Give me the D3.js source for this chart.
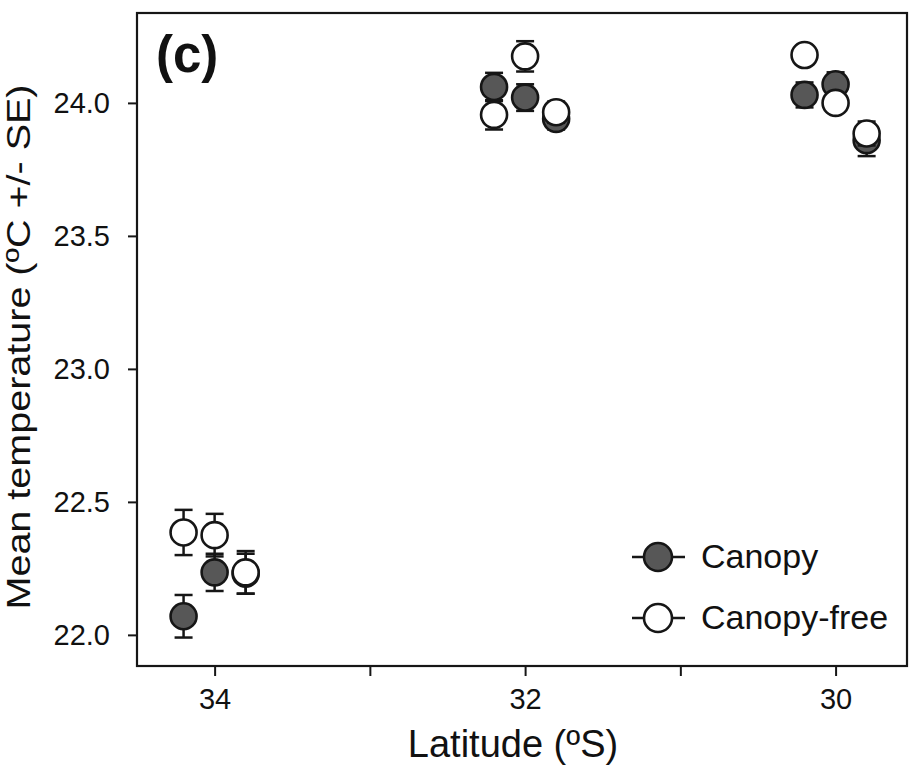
<!DOCTYPE html>
<html>
<head>
<meta charset="utf-8">
<script src="https://cdn.jsdelivr.net/npm/d3@7"></script>
<style>
  html, body { margin: 0; padding: 0; background: #fff; }
  svg { display: block; font-family: "Liberation Sans", Arial, sans-serif; }
</style>
</head>
<body>
<svg id="chart" width="913" height="772"></svg>
<script>
// Sampling sites (latitude, ºS)
const latitudes = [34.2, 34.0, 33.8, 32.2, 32.0, 31.8, 30.2, 30.0, 29.8];

// Mean temperature (ºC) and standard error per site
const canopyMean = [22.07, 22.235, 22.23, 24.06, 24.02, 23.94, 24.03, 24.07, 23.86];
const canopySE   = [0.08, 0.07, 0.075, 0.053, 0.05, 0.04, 0.047, 0.045, 0.06];
const freeMean   = [22.385, 22.375, 22.235, 23.955, 24.175, 23.965, 24.18, 24.0, 23.885];
const freeSE     = [0.085, 0.08, 0.08, 0.055, 0.057, 0.04, 0.035, 0.035, 0.045];

// Axis ticks
const xTicks = [34, 33, 32, 31, 30];
const xTickLabels = ["34", "", "32", "", "30"];
const yTicks = [22.0, 22.5, 23.0, 23.5, 24.0];

const seriesNames = ["Canopy", "Canopy-free"];
const seriesFill = ["#575757", "#ffffff"];

const svg = d3.select("#chart");
const plot = { left: 137, top: 13, right: 907, bottom: 666 };

const x = d3.scaleLinear().domain([34.5, 29.54]).range([plot.left, plot.right]);
const y = d3.scaleLinear().domain([21.883, 24.338]).range([plot.bottom, plot.top]);

const ink = "#161616";

// Axes
const xAxis = d3.axisBottom(x).tickValues(xTicks)
  .tickFormat((d, i) => xTickLabels[i]).tickSize(10).tickPadding(12);
const gx = svg.append("g").attr("transform", `translate(0,${plot.bottom})`).call(xAxis);
gx.select(".domain").remove();
gx.selectAll(".tick line").attr("stroke", ink).attr("stroke-width", 2);
gx.selectAll(".tick text").attr("font-size", 29).attr("fill", "#111")
  .attr("font-family", "Liberation Sans, Arial, sans-serif");

const yAxis = d3.axisLeft(y).tickValues(yTicks).tickFormat(d3.format(".1f"))
  .tickSize(9).tickPadding(18);
const gy = svg.append("g").attr("transform", `translate(${plot.left},0)`).call(yAxis);
gy.select(".domain").remove();
gy.selectAll(".tick line").attr("stroke", ink).attr("stroke-width", 2);
gy.selectAll(".tick text").attr("font-size", 29).attr("fill", "#111")
  .attr("font-family", "Liberation Sans, Arial, sans-serif");

// Plot frame
svg.append("rect")
  .attr("x", plot.left).attr("y", plot.top)
  .attr("width", plot.right - plot.left).attr("height", plot.bottom - plot.top)
  .attr("fill", "none").attr("stroke", ink).attr("stroke-width", 2.2);

// Axis titles
svg.append("text")
  .attr("x", 513).attr("y", 757)
  .attr("text-anchor", "middle").attr("font-size", 38).attr("fill", "#111")
  .text("Latitude (ºS)");

svg.append("text")
  .attr("transform", "translate(30,347) rotate(-90)")
  .attr("text-anchor", "middle").attr("font-size", 34).attr("fill", "#111")
  .attr("textLength", 525).attr("lengthAdjust", "spacingAndGlyphs")
  .text("Mean temperature (ºC +/- SE)");

// Panel label
svg.append("text")
  .attr("x", 156).attr("y", 72)
  .attr("font-size", 51).attr("font-weight", "bold").attr("fill", "#111")
  .text("(c)");

// Series: error bars then points; canopy-free drawn on top
const series = [
  { mean: canopyMean, se: canopySE, fill: seriesFill[0] },
  { mean: freeMean, se: freeSE, fill: seriesFill[1] }
];
const capHalf = 9;
const radius = 13;

series.forEach(s => {
  const data = latitudes.map((lat, i) => ({ lat, m: s.mean[i], se: s.se[i] }));
  const g = svg.append("g");
  const eb = g.selectAll(".eb").data(data).enter().append("g")
    .attr("stroke", ink).attr("stroke-width", 2.5);
  eb.append("line")
    .attr("x1", d => x(d.lat)).attr("x2", d => x(d.lat))
    .attr("y1", d => y(d.m - d.se)).attr("y2", d => y(d.m + d.se));
  eb.append("line")
    .attr("x1", d => x(d.lat) - capHalf).attr("x2", d => x(d.lat) + capHalf)
    .attr("y1", d => y(d.m + d.se)).attr("y2", d => y(d.m + d.se));
  eb.append("line")
    .attr("x1", d => x(d.lat) - capHalf).attr("x2", d => x(d.lat) + capHalf)
    .attr("y1", d => y(d.m - d.se)).attr("y2", d => y(d.m - d.se));
  g.selectAll("circle").data(data).enter().append("circle")
    .attr("cx", d => x(d.lat)).attr("cy", d => y(d.m)).attr("r", radius)
    .attr("fill", s.fill).attr("stroke", ink).attr("stroke-width", 2.6);
});

// Legend
const legend = svg.append("g");
const legendY = [557, 618];
seriesNames.forEach((name, i) => {
  const row = legend.append("g").attr("transform", `translate(0,${legendY[i]})`);
  row.append("line").attr("x1", 632).attr("x2", 685).attr("y1", 0).attr("y2", 0)
    .attr("stroke", ink).attr("stroke-width", 2.5);
  row.append("circle").attr("cx", 658).attr("cy", 0).attr("r", 14)
    .attr("fill", seriesFill[i]).attr("stroke", ink).attr("stroke-width", 2.6);
  row.append("text").attr("x", 701).attr("y", 11)
    .attr("font-size", 34).attr("fill", "#111").text(name);
});
</script>
</body>
</html>
